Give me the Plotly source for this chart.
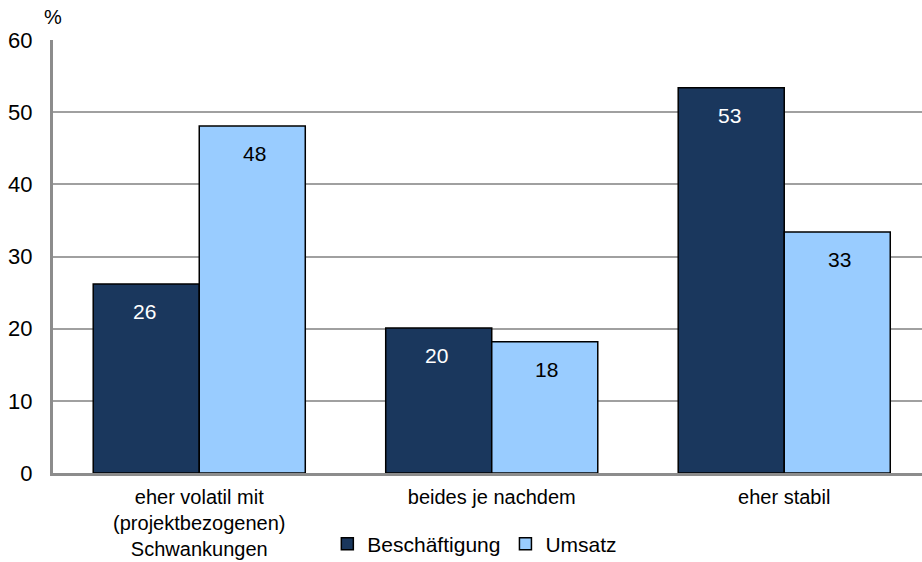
import plotly.graph_objects as go

categories = ["eher volatil mit<br>(projektbezogenen)<br>Schwankungen", "beides je nachdem", "eher stabil"]
beschaeftigung = [26.2, 20.1, 53.4]
umsatz = [48.1, 18.2, 33.4]
y_ticks = [0, 10, 20, 30, 40, 50, 60]

FONT = "Liberation Sans, Arial, sans-serif"
DARK = "#1a375d"
LIGHT = "#99ccff"

fig = go.Figure()
fig.add_trace(go.Bar(name="Beschäftigung", x=categories, y=beschaeftigung,
                     marker=dict(color=DARK, line=dict(color="black", width=1.5))))
fig.add_trace(go.Bar(name="Umsatz", x=categories, y=umsatz,
                     marker=dict(color=LIGHT, line=dict(color="black", width=1.5))))

# value labels just below each bar top
for series, offset, color in ((beschaeftigung, -0.1875, "white"), (umsatz, 0.1875, "black")):
    for i, v in enumerate(series):
        fig.add_annotation(x=i + offset, y=v, xref="x", yref="y", text=f"{v:.0f}",
                           showarrow=False, yanchor="top", yshift=-14,
                           font=dict(family=FONT, size=21, color=color))

fig.add_annotation(text="%", xref="paper", yref="paper", x=0, y=1, xanchor="left",
                   yanchor="bottom", xshift=-11, yshift=10, showarrow=False,
                   font=dict(family=FONT, size=20, color="black"))

fig.update_layout(
    width=922, height=562,
    margin=dict(l=53, r=0, t=40, b=89, autoexpand=False),
    paper_bgcolor="white", plot_bgcolor="white",
    barmode="group", bargap=0.275, bargroupgap=0,
    font=dict(family=FONT, size=20, color="black"),
    showlegend=True,
    legend=dict(orientation="h", xref="container", yref="container", x=0.515, y=0.032,
                xanchor="center", yanchor="middle", font=dict(family=FONT, size=21),
                itemwidth=30, traceorder="normal"),
)
fig.update_xaxes(type="category", range=[-0.5, 2.471], showline=True, linecolor="#8c8c8c",
                 linewidth=3, ticks="", showgrid=False, tickfont=dict(size=20),
                 ticklabelstandoff=4, automargin=False)
fig.update_yaxes(range=[0, 60], tickvals=y_ticks, showline=True, linecolor="#8c8c8c",
                 linewidth=3, gridcolor="#a0a0a0", gridwidth=2, ticks="",
                 ticklabelstandoff=13, zeroline=False, tickfont=dict(size=22),
                 automargin=False)

fig.write_html("out.html")
